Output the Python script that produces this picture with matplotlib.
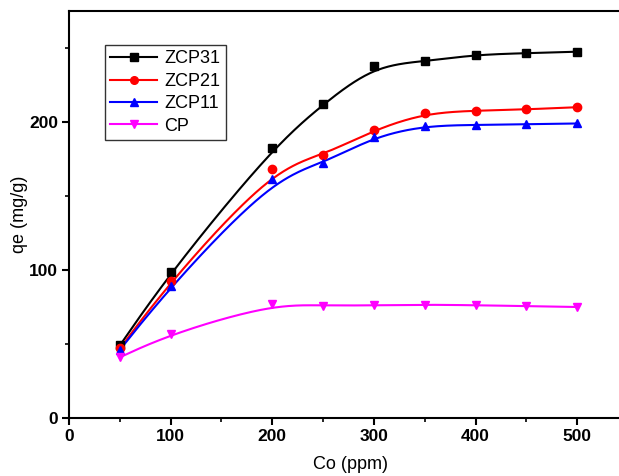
import numpy as np
import matplotlib
matplotlib.use("Agg")
import matplotlib.pyplot as plt
from matplotlib.lines import Line2D
from matplotlib.ticker import MultipleLocator

plt.rcParams['font.family'] = ['Liberation Sans', 'DejaVu Sans']

# initial concentration (ppm)
co = [50, 100, 200, 250, 300, 350, 400, 450, 500]

# adsorbed amount qe (mg/g)
zcp31 = [49, 98.6, 182.4, 212, 238, 241, 245.5, 246.5, 247.5]
zcp21 = [47, 92.5, 168, 177.5, 194.6, 206, 207.7, 208.5, 210]
zcp11 = [46, 89, 161.5, 172, 190, 197.5, 198, 198.5, 199]
cp = [41, 56.8, 77, 75.8, 76.2, 76.6, 76.2, 75.6, 75]

series_names = ['ZCP31', 'ZCP21', 'ZCP11', 'CP']
series_colors = ['black', '#ff0000', '#0000ff', '#ff00ff']
series_markers = ['s', 'o', '^', 'v']


def bspline(x, y, n=40):
    # cubic B-spline through the data as control points (Origin-like "B-Spline" line)
    P = np.column_stack([x, y]).astype(float)
    P = np.vstack([P[0], P[0], P, P[-1], P[-1]])
    t = np.linspace(0, 1, n)
    b0 = (1 - t) ** 3 / 6
    b1 = (3 * t ** 3 - 6 * t ** 2 + 4) / 6
    b2 = (-3 * t ** 3 + 3 * t ** 2 + 3 * t + 1) / 6
    b3 = t ** 3 / 6
    pts = []
    for i in range(len(P) - 3):
        seg = (np.outer(b0, P[i]) + np.outer(b1, P[i + 1])
               + np.outer(b2, P[i + 2]) + np.outer(b3, P[i + 3]))
        pts.append(seg)
    pts = np.vstack(pts)
    return pts[:, 0], pts[:, 1]


fig = plt.figure(figsize=(6.19, 4.76), dpi=100)
ax = fig.add_axes([69 / 619, 58 / 476, 562 / 619, 407 / 476])

handles = []
for vals, name, col, mk in zip([zcp31, zcp21, zcp11, cp], series_names,
                               series_colors, series_markers):
    sx, sy = bspline(co, vals)
    ax.plot(sx, sy, color=col, lw=1.5, zorder=2)
    ax.plot(co, vals, ls='none', marker=mk, color=col, ms=6, zorder=3)
    handles.append(Line2D([], [], color=col, lw=1.5, marker=mk, ms=5.5))

ax.set_xlim(0, 553)
ax.set_ylim(0, 275)
ax.xaxis.set_major_locator(MultipleLocator(100))
ax.xaxis.set_minor_locator(MultipleLocator(50))
ax.yaxis.set_major_locator(MultipleLocator(100))
ax.yaxis.set_minor_locator(MultipleLocator(50))
ax.tick_params(which='major', direction='out', length=5, width=1.5,
               labelsize=12.5, pad=3)
ax.tick_params(which='minor', direction='out', length=3, width=1.2)
for lab in ax.get_xticklabels() + ax.get_yticklabels():
    lab.set_fontweight('bold')
for sp in ax.spines.values():
    sp.set_linewidth(1.5)

ax.set_xlabel('Co (ppm)', fontsize=13)
ax.set_ylabel('qe (mg/g)', fontsize=13)
ax.xaxis.set_label_coords(281 / 562, -38 / 407)
ax.yaxis.set_label_coords(-41 / 562, 0.5)

leg = ax.legend(handles, series_names, loc='upper left',
                bbox_to_anchor=(36 / 562, 1 - 34 / 407), fontsize=13,
                frameon=True, fancybox=False, edgecolor='black',
                handlelength=2.6, handletextpad=0.4, labelspacing=0.3,
                borderpad=0.3, borderaxespad=0)
leg.get_frame().set_linewidth(1.0)

fig.savefig('out.png', dpi=100)
